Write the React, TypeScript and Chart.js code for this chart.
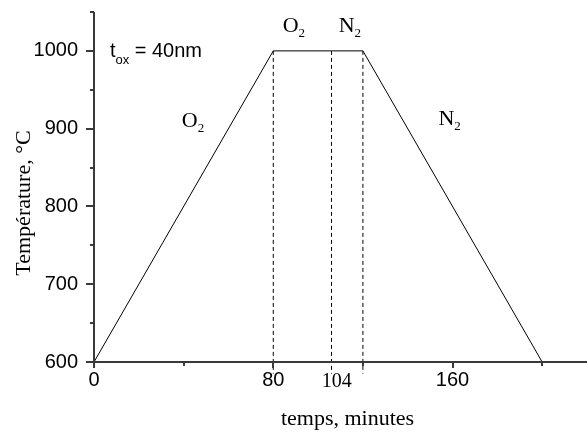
import { useEffect, useRef } from 'react';
import { Chart, registerables } from 'chart.js';

Chart.register(...registerables);

// ---- data ----
const profileTime = [0, 80, 120, 200];
const profileTemp = [600, 1000, 1000, 600];
const markerTimes = [80, 106, 120];
const markerTop = 1000;
const markerBottom = 585;

const xTickValues = [0, 80, 160];
const xTickLabels = ['0', '80', '160'];
const xMinorTicks = [40, 120, 200];
const yTickValues = [600, 700, 800, 900, 1000];
const yTickLabels = ['600', '700', '800', '900', '1000'];
const yMinorTicks = [650, 750, 850, 950, 1050];

const xMin = 0;
const xMax = 220;
const yMin = 600;
const yMax = 1050;

const xTitle = 'temps, minutes';
const yTitle = 'Température, °C';

const SANS = '"Liberation Sans", Arial, sans-serif';
const SERIF = '"Liberation Serif", "Times New Roman", serif';

type Note = { x: number; y: number; text: string; sub: string; after: string; family: string; size: number; subSize: number; subShift: number };

const annotations: Note[] = [
  { x: 7.1, y: 992, text: 't', sub: 'ox', after: ' = 40nm', family: SANS, size: 20, subSize: 13, subShift: 7 },
  { x: 39.2, y: 902, text: 'O', sub: '2', after: '', family: SERIF, size: 22, subSize: 13, subShift: 5 },
  { x: 84.2, y: 1024, text: 'O', sub: '2', after: '', family: SERIF, size: 22, subSize: 13, subShift: 5 },
  { x: 109.2, y: 1024, text: 'N', sub: '2', after: '', family: SERIF, size: 22, subSize: 13, subShift: 5 },
  { x: 153.7, y: 905, text: 'N', sub: '2', after: '', family: SERIF, size: 22, subSize: 13, subShift: 5 },
  { x: 101.6, y: 568, text: '104', sub: '', after: '', family: SERIF, size: 20, subSize: 13, subShift: 5 },
];

const AXIS_COLOR = '#3a3a3a';

const decorPlugin = {
  id: 'decor',
  afterDraw(chart: any) {
    const ctx = chart.ctx;
    const xs = chart.scales.x;
    const ys = chart.scales.y;
    const area = chart.chartArea;
    ctx.save();
    // axis lines
    ctx.strokeStyle = AXIS_COLOR;
    ctx.lineWidth = 2;
    ctx.beginPath();
    ctx.moveTo(area.left, area.top);
    ctx.lineTo(area.left, area.bottom);
    ctx.moveTo(area.left - 8, area.bottom);
    ctx.lineTo(area.right, area.bottom);
    ctx.stroke();
    // y ticks
    ctx.beginPath();
    yTickValues.forEach((v) => {
      const p = Math.round(ys.getPixelForValue(v));
      ctx.moveTo(area.left - 8, p);
      ctx.lineTo(area.left, p);
    });
    yMinorTicks.forEach((v) => {
      const p = Math.round(ys.getPixelForValue(v));
      ctx.moveTo(area.left - 4, p);
      ctx.lineTo(area.left, p);
    });
    // x ticks
    xTickValues.forEach((v) => {
      const p = Math.round(xs.getPixelForValue(v));
      ctx.moveTo(p, area.bottom);
      ctx.lineTo(p, area.bottom + 6);
    });
    xMinorTicks.forEach((v) => {
      const p = Math.round(xs.getPixelForValue(v));
      ctx.moveTo(p, area.bottom);
      ctx.lineTo(p, area.bottom + 4);
    });
    ctx.stroke();

    // annotations
    ctx.fillStyle = '#000';
    ctx.textBaseline = 'alphabetic';
    ctx.textAlign = 'left';
    annotations.forEach((a) => {
      let px = xs.getPixelForValue(a.x);
      const py = ys.getPixelForValue(a.y);
      ctx.font = `${a.size}px ${a.family}`;
      ctx.fillText(a.text, px, py);
      px += ctx.measureText(a.text).width;
      if (a.sub) {
        ctx.font = `${a.subSize}px ${a.family}`;
        ctx.fillText(a.sub, px, py + a.subShift);
        px += ctx.measureText(a.sub).width;
      }
      if (a.after) {
        ctx.font = `${a.size}px ${a.family}`;
        ctx.fillText(a.after, px, py);
      }
    });

    // axis titles
    ctx.font = `22px ${SERIF}`;
    ctx.textAlign = 'center';
    ctx.fillText(xTitle, (area.left + area.right) / 2 + 7, 425);
    ctx.save();
    ctx.translate(30, 203);
    ctx.rotate(-Math.PI / 2);
    ctx.fillText(yTitle, 0, 0);
    ctx.restore();
    ctx.restore();
  },
};

export default function App() {
  const ref = useRef<HTMLCanvasElement | null>(null);
  useEffect(() => {
    if (!ref.current) return;
    const profile = profileTime.map((t, i) => ({ x: t, y: profileTemp[i] }));
    const markers = markerTimes.map((t) => ({
      data: [
        { x: t, y: markerTop },
        { x: t, y: markerBottom },
      ],
      borderColor: '#000',
      borderWidth: 1,
      borderDash: [4, 3],
      pointRadius: 0,
      clip: false as any,
      fill: false,
    }));
    const chart = new Chart(ref.current, {
      type: 'line',
      data: {
        datasets: [
          {
            data: profile,
            borderColor: '#000',
            borderWidth: 1,
            pointRadius: 0,
            tension: 0,
            fill: false,
          },
          ...markers,
        ] as any,
      },
      options: {
        animation: false,
        responsive: false,
        devicePixelRatio: 1,
        layout: { padding: { top: 12, left: 0, right: 0, bottom: 0 } },
        plugins: { legend: { display: false }, tooltip: { enabled: false } },
        scales: {
          x: {
            type: 'linear',
            min: xMin,
            max: xMax,
            afterBuildTicks: (s: any) => {
              s.ticks = xTickValues.map((v) => ({ value: v }));
            },
            afterFit: (s: any) => {
              s.height = 71;
              s.paddingLeft = 0;
              s.paddingRight = 0;
            },
            ticks: {
              callback: (_v: any, i: number) => xTickLabels[i],
              font: { family: SANS, size: 20 },
              color: '#000',
              padding: 6,
              maxRotation: 0,
              autoSkip: false,
            },
            grid: { display: false, drawTicks: false },
            border: { display: false },
          },
          y: {
            type: 'linear',
            min: yMin,
            max: yMax,
            afterBuildTicks: (s: any) => {
              s.ticks = yTickValues.map((v) => ({ value: v }));
            },
            afterFit: (s: any) => {
              s.width = 94;
              s.paddingTop = 0;
              s.paddingBottom = 0;
            },
            ticks: {
              callback: (_v: any, i: number) => yTickLabels[i],
              font: { family: SANS, size: 20 },
              color: '#000',
              padding: 16,
              autoSkip: false,
            },
            grid: { display: false, drawTicks: false },
            border: { display: false },
          },
        },
      },
      plugins: [decorPlugin],
    });
    return () => chart.destroy();
  }, []);
  return (
    <div style={{ position: 'fixed', left: 0, top: 0, width: 587, height: 433, background: '#fff' }}>
      <canvas ref={ref} width={587} height={433} style={{ width: 587, height: 433, display: 'block' }} />
    </div>
  );
}
